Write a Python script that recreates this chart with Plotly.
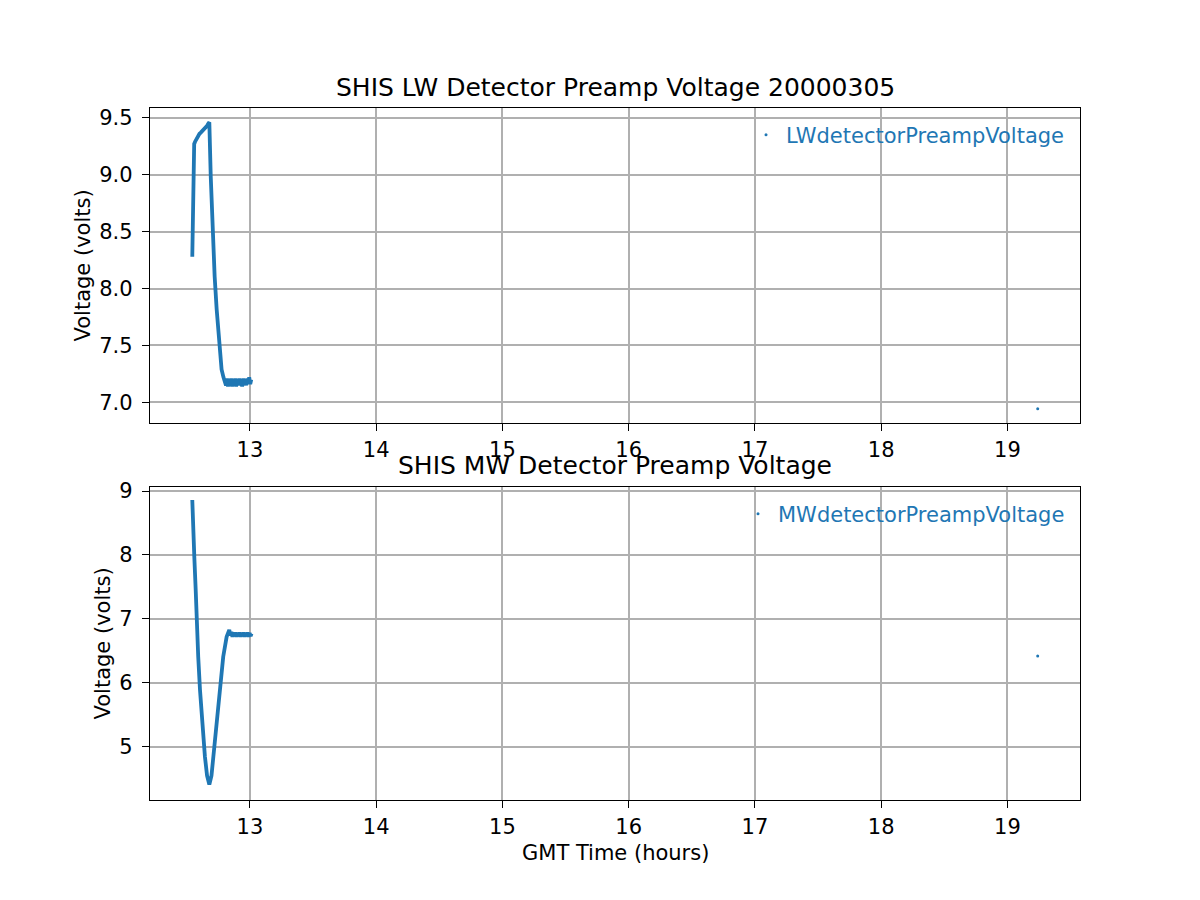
import plotly.graph_objects as go
from plotly.subplots import make_subplots

# ---- LW detector preamp voltage (top panel) ----
lw_time = [12.543, 12.544, 12.546, 12.547, 12.548, 12.550, 12.553, 12.558, 12.565, 12.570,
           12.578, 12.590, 12.600, 12.610, 12.620, 12.630, 12.640, 12.650, 12.660, 12.670,
           12.678, 12.689, 12.699, 12.709, 12.720, 12.736, 12.754, 12.775, 12.790, 12.802,
           12.810, 12.818, 12.826, 12.834, 12.842, 12.850, 12.858, 12.866, 12.874, 12.882,
           12.890, 12.898, 12.906, 12.914, 12.922, 12.930, 12.938, 12.946, 12.954, 12.962,
           12.970, 12.978, 12.986, 12.994, 13.002, 13.010]
lw_volt = [8.28, 8.40, 8.42, 8.46, 8.70, 9.00, 9.20, 9.27, 9.29, 9.30,
           9.33, 9.35, 9.36, 9.37, 9.38, 9.39, 9.40, 9.42, 9.43, 9.45,
           9.46, 8.99, 8.69, 8.40, 8.11, 7.82, 7.52, 7.29, 7.22, 7.19,
           7.15, 7.21, 7.14, 7.20, 7.15, 7.21, 7.14, 7.19, 7.16, 7.21,
           7.14, 7.20, 7.15, 7.21, 7.15, 7.19, 7.14, 7.21, 7.16, 7.20,
           7.15, 7.21, 7.16, 7.22, 7.16, 7.20]
lw_lone_time = [19.24]
lw_lone_volt = [6.945]

# ---- MW detector preamp voltage (bottom panel) ----
mw_time = [12.543, 12.547, 12.551, 12.559, 12.570, 12.578, 12.590, 12.604, 12.622, 12.643,
           12.660, 12.678, 12.695, 12.709, 12.736, 12.762, 12.788, 12.815, 12.836,
           12.845, 12.853, 12.861, 12.869, 12.877, 12.885, 12.893, 12.901, 12.909, 12.917,
           12.925, 12.933, 12.941, 12.949, 12.957, 12.965, 12.973, 12.981, 12.989, 12.997,
           13.005, 13.012]
mw_volt = [8.86, 8.70, 8.49, 7.97, 7.45, 6.93, 6.41, 5.89, 5.37, 4.85,
           4.55, 4.41, 4.55, 4.85, 5.37, 5.89, 6.41, 6.72, 6.83,
           6.74, 6.80, 6.72, 6.79, 6.73, 6.79, 6.72, 6.78, 6.73, 6.79,
           6.72, 6.78, 6.73, 6.79, 6.72, 6.78, 6.73, 6.79, 6.72, 6.78,
           6.73, 6.77]
mw_lone_time = [19.24]
mw_lone_volt = [6.42]

x_ticks = [13, 14, 15, 16, 17, 18, 19]
lw_y_ticks = [7.0, 7.5, 8.0, 8.5, 9.0, 9.5]
mw_y_ticks = [5, 6, 7, 8, 9]

BLUE = "#1f77b4"
FONT = "DejaVu Sans"

fig = make_subplots(rows=2, cols=1, vertical_spacing=0.0925)

fig.add_trace(go.Scatter(x=lw_time, y=lw_volt, mode="lines",
                         line=dict(color=BLUE, width=3.8), showlegend=False), row=1, col=1)
fig.add_trace(go.Scatter(x=lw_lone_time, y=lw_lone_volt, mode="markers",
                         marker=dict(color=BLUE, size=3), name="LWdetectorPreampVoltage",
                         legend="legend"), row=1, col=1)
fig.add_trace(go.Scatter(x=mw_time, y=mw_volt, mode="lines",
                         line=dict(color=BLUE, width=3.8), showlegend=False), row=2, col=1)
fig.add_trace(go.Scatter(x=mw_lone_time, y=mw_lone_volt, mode="markers",
                         marker=dict(color=BLUE, size=3), name="MWdetectorPreampVoltage",
                         legend="legend2"), row=2, col=1)

axis_common = dict(showline=True, mirror=True, linecolor="black", linewidth=1.3,
                   ticks="outside", ticklen=7, tickcolor="black", tickwidth=1.3,
                   showgrid=True, gridcolor="#b0b0b0", gridwidth=1.5, zeroline=False,
                   tickfont=dict(family=FONT, size=21, color="black"))

fig.update_xaxes(**axis_common, range=[12.208, 19.575], tickvals=x_ticks,
                 ticklabelstandoff=1)
fig.update_yaxes(**axis_common, ticklabelstandoff=5)
fig.update_yaxes(range=[6.819, 9.586], tickvals=lw_y_ticks, tickformat=".1f", row=1, col=1)
fig.update_yaxes(range=[4.17, 9.0625], tickvals=mw_y_ticks, row=2, col=1)

fig.update_layout(
    xaxis=dict(domain=[0, 1]), yaxis=dict(domain=[0.5448, 1.0]),
    yaxis2=dict(domain=[0.0, 0.4523]),
)

def paper_y(py):
    return (800 - py) / 692.0

def paper_x(px):
    return (px - 150) / 930.0

annotations = [
    dict(text="SHIS LW Detector Preamp Voltage 20000305", x=0.5, y=paper_y(88),
         font=dict(size=25, family=FONT, color="black")),
    dict(text="SHIS MW Detector Preamp Voltage", x=0.5, y=paper_y(466),
         font=dict(size=25, family=FONT, color="black")),
    dict(text="GMT Time (hours)", x=0.5, y=paper_y(853),
         font=dict(size=21, family=FONT, color="black")),
    dict(text="Voltage (volts)", x=paper_x(82), y=paper_y(265.5), textangle=-90,
         font=dict(size=21, family=FONT, color="black")),
    dict(text="Voltage (volts)", x=paper_x(102), y=paper_y(643.5), textangle=-90,
         font=dict(size=21, family=FONT, color="black")),
]
for a in annotations:
    a.update(xref="paper", yref="paper", showarrow=False, xanchor="center", yanchor="middle")

fig.update_layout(
    width=1200, height=900,
    margin=dict(l=142, r=128, t=100, b=108),
    paper_bgcolor="white", plot_bgcolor="white",
    font=dict(family=FONT, size=21, color="black"),
    annotations=annotations,
    legend=dict(x=paper_x(1070), y=paper_y(135), xanchor="right", yanchor="middle",
                bgcolor="rgba(0,0,0,0)", font=dict(family=FONT, size=21, color=BLUE)),
    legend2=dict(x=paper_x(1070), y=paper_y(514), xanchor="right", yanchor="middle",
                 bgcolor="rgba(0,0,0,0)", font=dict(family=FONT, size=21, color=BLUE)),
)

fig.write_html("out.html")
